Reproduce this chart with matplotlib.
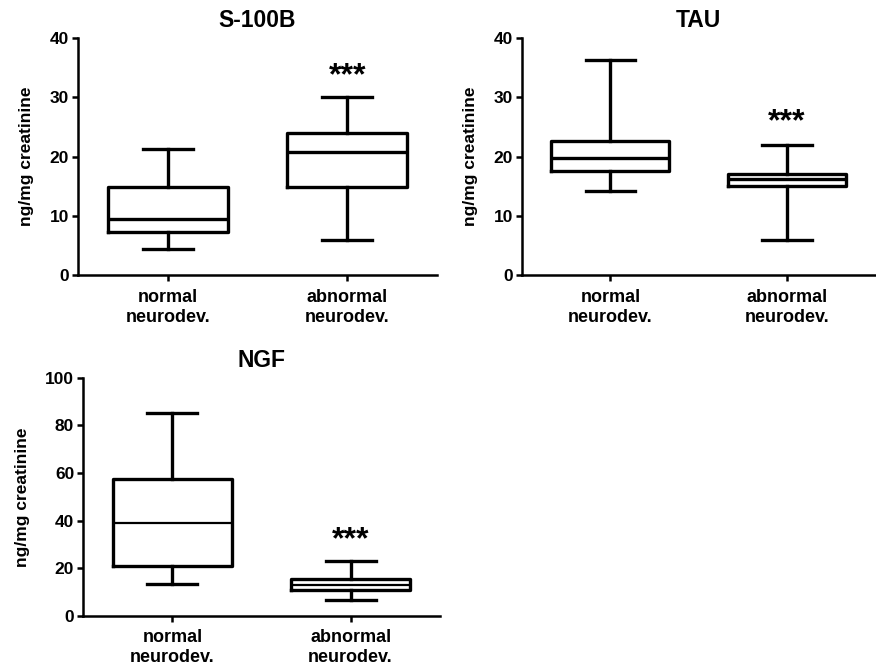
import matplotlib
matplotlib.use('Agg')
import matplotlib.pyplot as plt

plt.rcParams['font.family'] = ['Liberation Sans', 'DejaVu Sans']
plt.rcParams['font.weight'] = 'bold'

groups = ['normal\nneurodev.', 'abnormal\nneurodev.']

# whisker low, Q1, median, Q3, whisker high
s100b_normal = [4.5, 7.3, 9.5, 14.8, 21.2]
s100b_abnormal = [5.9, 14.8, 20.7, 23.9, 30.1]
tau_normal = [14.2, 17.6, 19.7, 22.7, 36.2]
tau_abnormal = [6.0, 15.0, 16.2, 17.0, 22.0]
ngf_normal = [13.5, 21.0, 39.0, 57.5, 85.0]
ngf_abnormal = [6.5, 11.0, 13.0, 15.5, 23.0]

star_y = {'S-100B': 33.6, 'TAU': 25.8, 'NGF': 31.8}
ylims = {'S-100B': (0, 40, 10), 'TAU': (0, 40, 10), 'NGF': (0, 100, 20)}
median_lw = {'S-100B': 2.4, 'TAU': 2.4, 'NGF': 1.6}


def stats(vals, label):
    lo, q1, med, q3, hi = vals
    return {'whislo': lo, 'q1': q1, 'med': med, 'q3': q3, 'whishi': hi,
            'fliers': [], 'label': label}


def panel(ax, title, normal, abnormal):
    lw = 2.4
    ax.bxp([stats(normal, groups[0]), stats(abnormal, groups[1])],
           positions=[1, 2], widths=0.667, capwidths=0.28, showfliers=False,
           boxprops=dict(color='black', linewidth=lw),
           whiskerprops=dict(color='black', linewidth=lw),
           capprops=dict(color='black', linewidth=lw),
           medianprops=dict(color='black', linewidth=median_lw[title]))
    lo, hi, step = ylims[title]
    ax.set_ylim(lo, hi)
    ax.set_yticks(range(lo, hi + 1, step))
    ax.set_xlim(0.5, 2.5)
    ax.set_title(title, fontsize=16.5, fontweight='bold', pad=8)
    ax.set_ylabel('ng/mg creatinine', fontsize=12.5, fontweight='bold', labelpad=11)
    ax.text(2, star_y[title], '***', ha='center', va='center',
            fontsize=23, fontweight='bold')
    for s in ['top', 'right']:
        ax.spines[s].set_visible(False)
    for s in ['left', 'bottom']:
        ax.spines[s].set_linewidth(1.8)
    ax.tick_params(axis='both', width=1.8, length=4.5, labelsize=12.5)
    ax.tick_params(axis='y', pad=2)
    ax.tick_params(axis='x', pad=5)
    for t in ax.get_xticklabels():
        t.set_fontweight('bold')
        t.set_fontsize(13)
        t.set_linespacing(1.25)
    for t in ax.get_yticklabels():
        t.set_fontweight('bold')


fig = plt.figure(figsize=(8.76, 6.65), dpi=100)
ax1 = fig.add_axes([0.089, 0.586, 0.410, 0.357])
ax2 = fig.add_axes([0.596, 0.586, 0.403, 0.357])
ax3 = fig.add_axes([0.095, 0.074, 0.407, 0.358])

panel(ax1, 'S-100B', s100b_normal, s100b_abnormal)
panel(ax2, 'TAU', tau_normal, tau_abnormal)
panel(ax3, 'NGF', ngf_normal, ngf_abnormal)

fig.savefig('out.png', dpi=100)
